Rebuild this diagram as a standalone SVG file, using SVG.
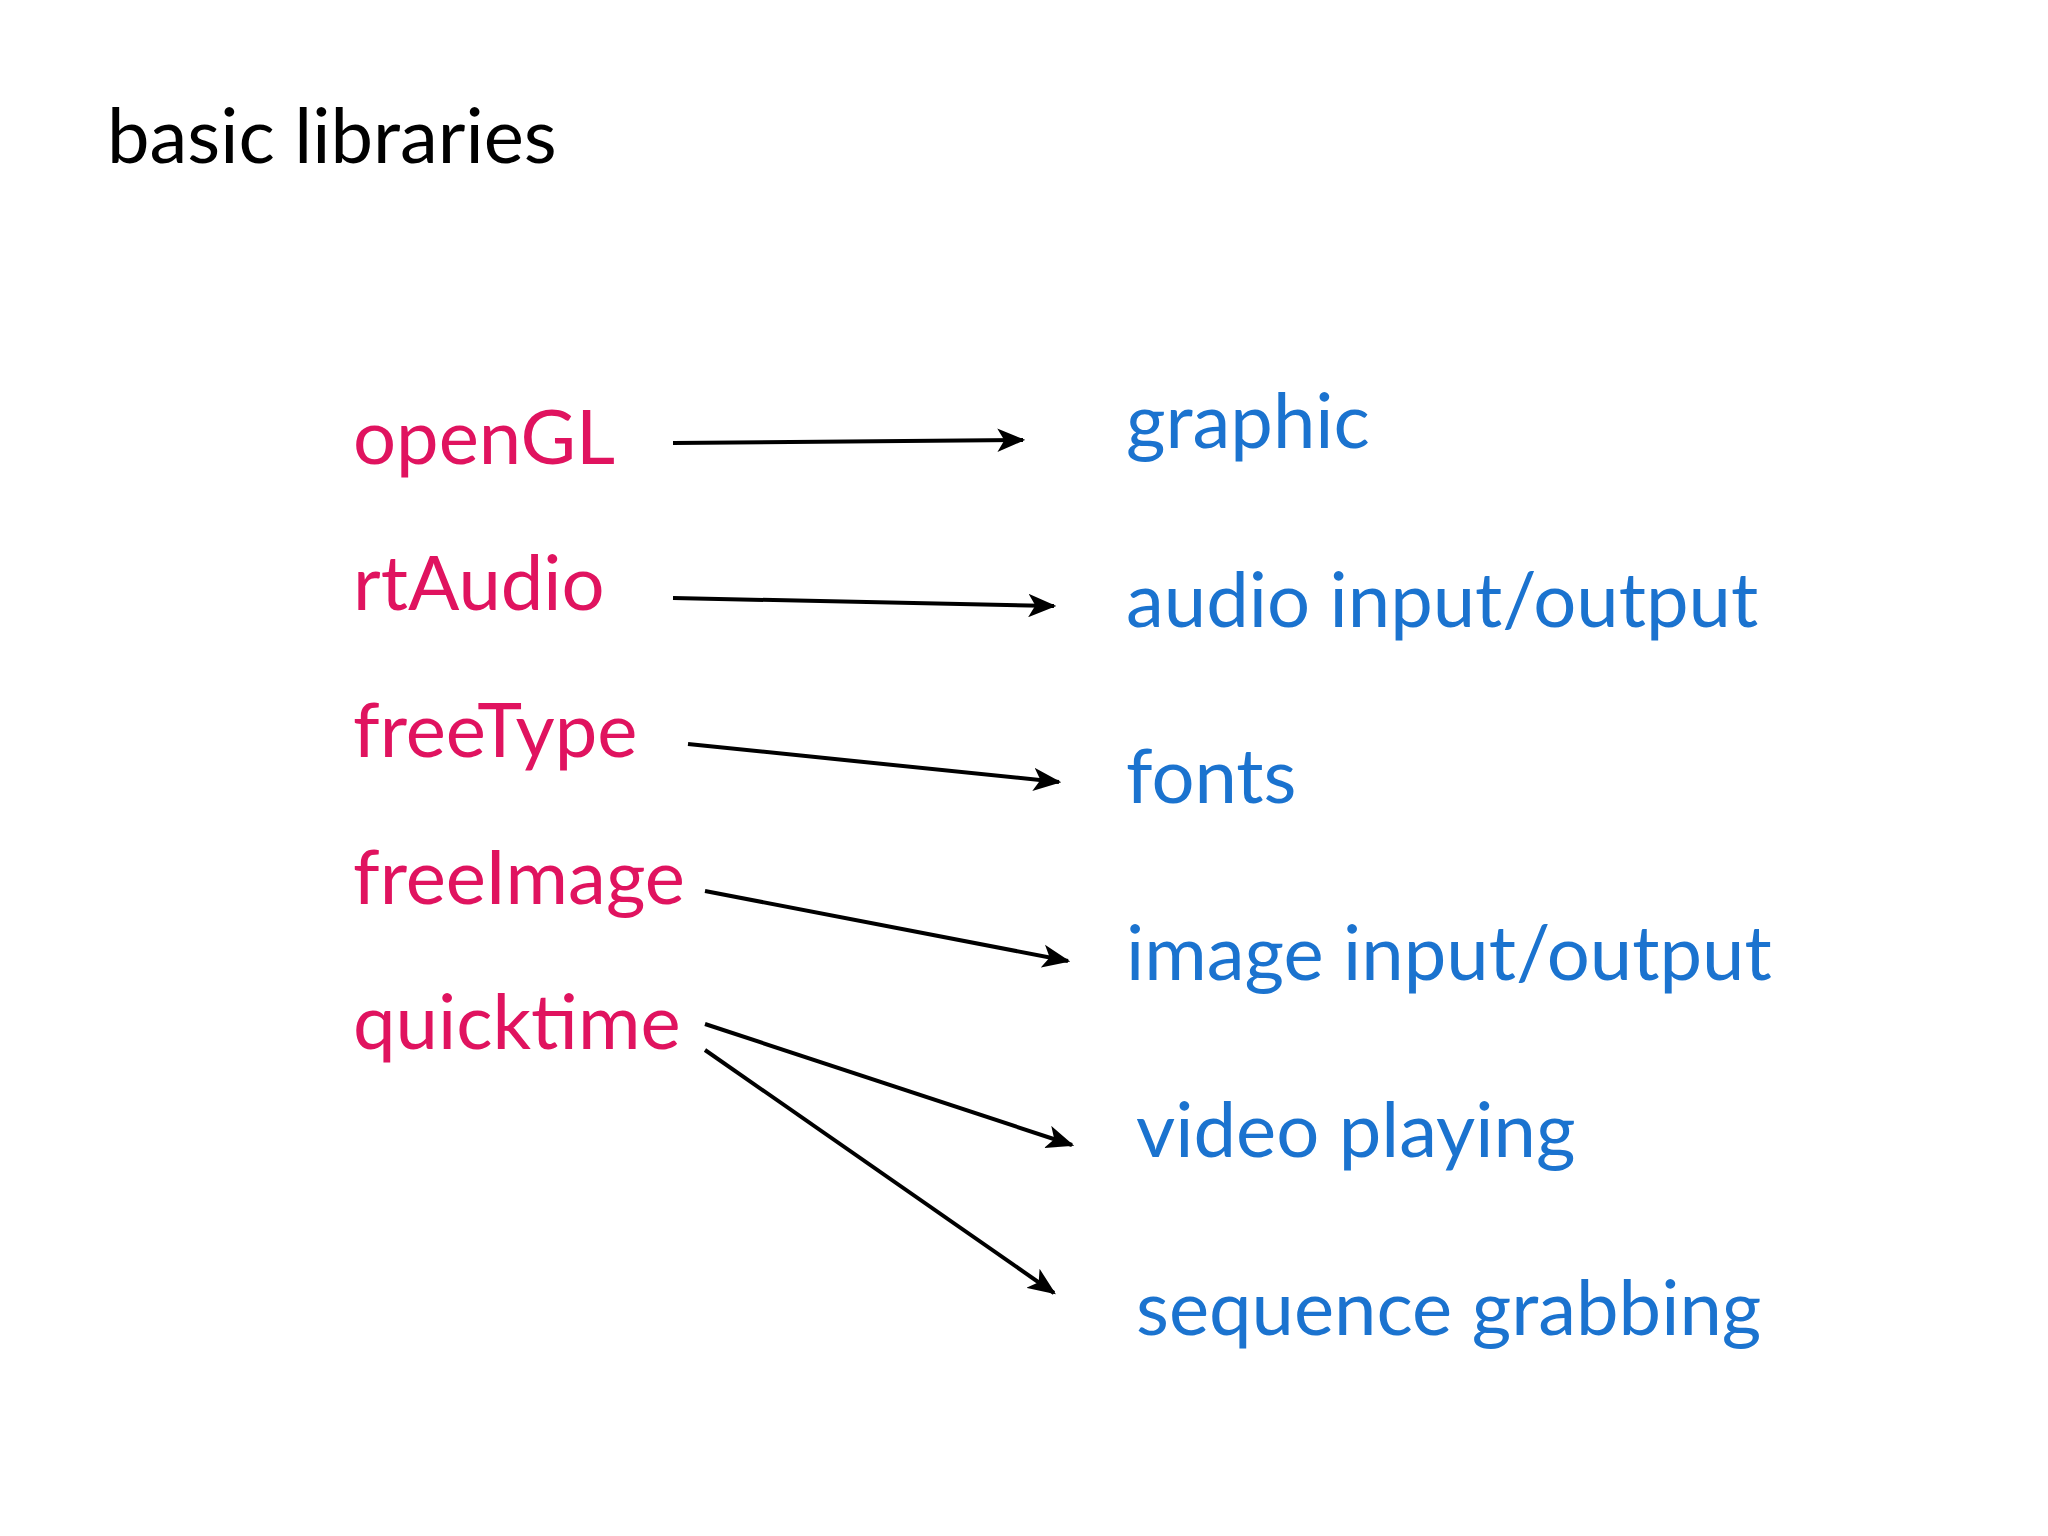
<svg xmlns="http://www.w3.org/2000/svg" width="2048" height="1536" viewBox="0 0 2048 1536">
<style>
text{font-family:Lato,"Open Sans","Liberation Sans",sans-serif;font-size:76px}
.t{fill:#000}
.r{fill:#e0135f}
.b{fill:#1b73cf}
.c line{stroke:#000;stroke-width:4;marker-end:url(#ah)}
</style>
<defs><marker id="ah" viewBox="0 0 12 10" refX="11" refY="5" markerWidth="7" markerHeight="6" orient="auto" markerUnits="strokeWidth"><path d="M0,0 L12,5 L0,10 L3,5 Z" fill="#000"/></marker></defs>
<rect width="2048" height="1536" fill="#fff"/>
<text class="t" x="107" y="163">basic libraries</text>
<g id="opengl"><text class="r" x="353" y="464">openGL</text></g>
<g id="rtaudio"><text class="r" x="353" y="610">rtAudio</text></g>
<g id="freetype"><text class="r" x="353" y="757">freeType</text></g>
<g id="freeimage"><text class="r" x="353" y="904">freeImage</text></g>
<g id="quicktime"><text class="r" x="353" y="1049">quicktime</text></g>
<g id="graphic"><text class="b" x="1126" y="448">graphic</text></g>
<g id="audio"><text class="b" x="1126" y="627">audio input/output</text></g>
<g id="fonts"><text class="b" x="1126" y="803">fonts</text></g>
<g id="image"><text class="b" x="1126" y="980">image input/output</text></g>
<g id="video"><text class="b" x="1136" y="1157">video playing</text></g>
<g id="sequence"><text class="b" x="1136" y="1335">sequence grabbing</text></g>
<g class="c">
<line x1="673" y1="443" x2="1023" y2="440"/>
<line x1="673" y1="598" x2="1054" y2="606"/>
<line x1="688" y1="744" x2="1059" y2="782"/>
<line x1="705" y1="891" x2="1068" y2="961"/>
<line x1="705" y1="1024" x2="1072" y2="1145"/>
<line x1="705" y1="1050" x2="1054" y2="1293"/>
</g>
</svg>
